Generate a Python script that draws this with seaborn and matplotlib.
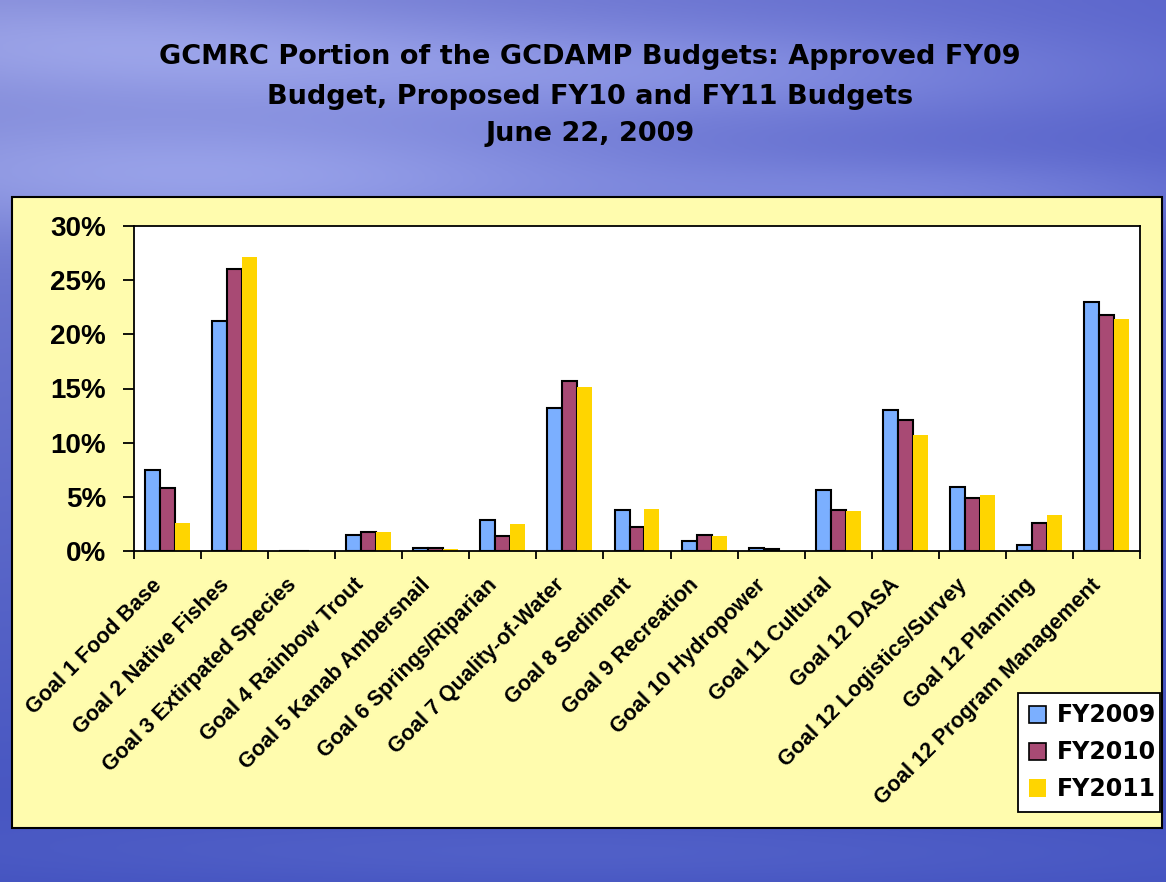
import numpy as np
import pandas as pd
import seaborn as sns
import matplotlib.pyplot as plt
from matplotlib.patches import Rectangle
from matplotlib.ticker import PercentFormatter, FixedLocator
from matplotlib.transforms import ScaledTranslation

# Data (% of budget)
goals = ["Goal 1 Food Base", "Goal 2 Native Fishes", "Goal 3 Extirpated Species",
         "Goal 4 Rainbow Trout", "Goal 5 Kanab Ambersnail", "Goal 6 Springs/Riparian",
         "Goal 7 Quality-of-Water", "Goal 8 Sediment", "Goal 9 Recreation",
         "Goal 10 Hydropower", "Goal 11 Cultural", "Goal 12 DASA",
         "Goal 12 Logistics/Survey", "Goal 12 Planning", "Goal 12 Program Management"]
fy2009 = [7.5, 21.2, 0.0, 1.5, 0.25, 2.9, 13.2, 3.8, 0.95, 0.25, 5.6, 13.0, 5.9, 0.6, 23.0]
fy2010 = [5.8, 26.0, 0.0, 1.75, 0.25, 1.4, 15.7, 2.25, 1.5, 0.15, 3.8, 12.1, 4.9, 2.6, 21.8]
fy2011 = [2.6, 27.1, 0.0, 1.75, 0.15, 2.5, 15.1, 3.9, 1.4, 0.0, 3.7, 10.7, 5.2, 3.3, 21.4]
years = ["FY2009", "FY2010", "FY2011"]
colors = ["#7BAFFF", "#A84A74", "#FFD500"]
edges = ["black", "black", "none"]

df = pd.DataFrame({"Goal": goals * 3,
                   "Share": fy2009 + fy2010 + fy2011,
                   "Year": np.repeat(years, len(goals))})

sns.set_style("white")
plt.rcParams["font.family"] = ["Liberation Sans", "DejaVu Sans"]
plt.rcParams["text.color"] = "black"
plt.rcParams["xtick.color"] = "black"
plt.rcParams["ytick.color"] = "black"
plt.rcParams["axes.labelcolor"] = "black"

fig = plt.figure(figsize=(11.66, 8.82), dpi=100)

# sky-ish slide background (gradient + a few soft cloud streaks)
bg = fig.add_axes([0, 0, 1, 1], zorder=-10)
yy, xx = np.mgrid[0:1:300j, 0:1:390j]
topl = np.array([0.50, 0.53, 0.84])
topr = np.array([0.36, 0.40, 0.80])
bot = np.array([0.26, 0.32, 0.75])
mix = (1 - yy)[..., None] * bot + yy[..., None] * (topl * (1 - xx[..., None]) + topr * xx[..., None])
clouds = np.zeros_like(xx)
for cx, cy, sx, sy, a in [(0.2, 0.80, 0.25, 0.05, 0.16), (0.55, 0.92, 0.3, 0.04, 0.12),
                          (0.8, 0.78, 0.2, 0.03, 0.10), (0.1, 0.95, 0.2, 0.04, 0.10),
                          (0.5, 0.03, 0.4, 0.03, 0.05)]:
    u = (xx - cx) + 0.35 * (yy - cy)
    clouds += a * np.exp(-(u ** 2 / (2 * sx ** 2) + (yy - cy) ** 2 / (2 * sy ** 2)))
img = np.clip(mix + clouds[..., None] * np.array([1.0, 1.0, 0.6]), 0, 1)
bg.imshow(img, origin="lower", aspect="auto", extent=[0, 1, 0, 1])
bg.set_axis_off()

# yellow panel
fig.patches.append(Rectangle((12 / 1166, 54 / 882), 1150 / 1166, 631 / 882,
                             transform=fig.transFigure, facecolor="#FFFCAE",
                             edgecolor="black", linewidth=1.5, zorder=-5))

# title
for txt, ypx in [("GCMRC Portion of the GCDAMP Budgets: Approved FY09", 57),
                 ("Budget, Proposed FY10 and FY11 Budgets", 97),
                 ("June 22, 2009", 134)]:
    fig.text(590 / 1166, 1 - ypx / 882, txt, ha="center", va="center",
             fontsize=19.5, fontweight="bold", color="black", family="DejaVu Sans")

ax = fig.add_axes([134 / 1166, 331 / 882, 1006 / 1166, 325 / 882])
ax.set_facecolor("white")
sns.barplot(data=df, x="Goal", y="Share", hue="Year", palette=colors,
            width=0.67, gap=0, saturation=1, ax=ax)
for cont, ec in zip(ax.containers, edges):
    for bar in cont:
        bar.set_edgecolor(ec)
        bar.set_linewidth(1.5)

ax.set_ylim(0, 30)
ax.set_xlim(-0.5, len(goals) - 0.5)
ax.set_yticks([0, 5, 10, 15, 20, 25, 30])
ax.yaxis.set_major_formatter(PercentFormatter(decimals=0))
ax.set_xlabel("")
ax.set_ylabel("")
for s in ax.spines.values():
    s.set_color("black")
    s.set_linewidth(1.3)
    s.set_visible(True)

ax.tick_params(axis="y", direction="out", length=8, width=1.3, pad=12,
               labelsize=20, left=True, colors="black")
for lab in ax.get_yticklabels():
    lab.set_fontweight("bold")
ax.xaxis.set_minor_locator(FixedLocator(np.arange(-0.5, len(goals), 1)))
ax.tick_params(axis="x", which="minor", direction="out", length=6, width=1.3,
               bottom=True, colors="black")
ax.tick_params(axis="x", which="major", length=0, pad=17, labelsize=15.5, colors="black")
ax.set_xticks(range(len(goals)))
ax.set_xticklabels(goals, rotation=45, ha="right", rotation_mode="anchor",
                   fontweight="bold")
shift = ScaledTranslation(-16 / 100, 0, fig.dpi_scale_trans)
for lab in ax.get_xticklabels():
    lab.set_transform(lab.get_transform() + shift)

leg = ax.legend(loc="lower left", bbox_to_anchor=(1018 / 1166, 70 / 882, 142 / 1166, 119 / 882),
                bbox_transform=fig.transFigure, mode="expand", frameon=True, fancybox=False,
                edgecolor="black", framealpha=1,
                prop={"weight": "bold", "size": 17, "family": "DejaVu Sans"},
                handlelength=0.75, handleheight=0.75, handletextpad=0.45,
                labelspacing=0.55, borderpad=0.45, borderaxespad=0, title=None)
leg.get_frame().set_linewidth(1.3)
for h, ec in zip(leg.legend_handles, edges):
    h.set_edgecolor(ec)
    h.set_linewidth(1.2)
for t in leg.get_texts():
    t.set_color("black")

fig.savefig("out.png", dpi=100)
